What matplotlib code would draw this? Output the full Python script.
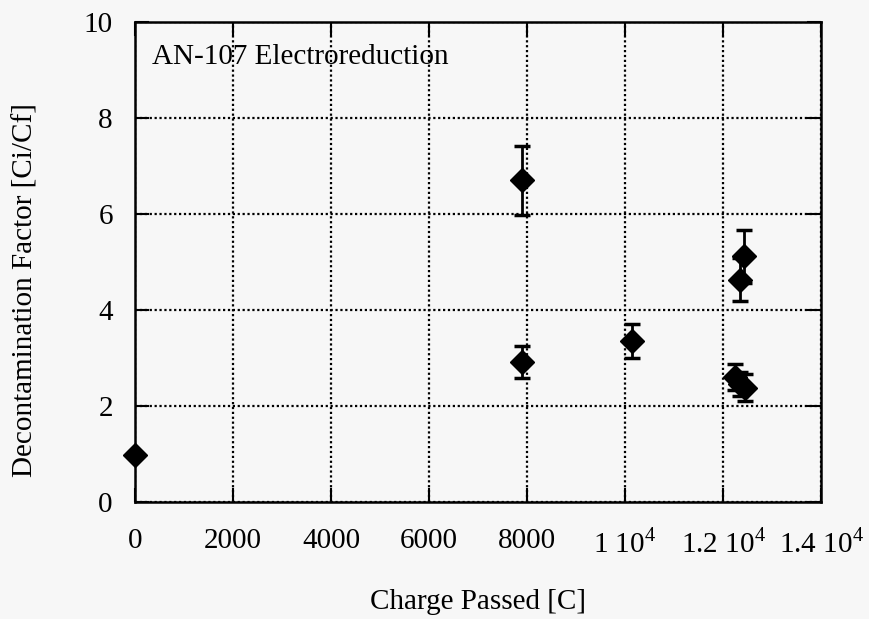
import matplotlib
matplotlib.use("Agg")
import matplotlib.pyplot as plt
from matplotlib.ticker import FixedLocator

charge = [0, 7900, 7900, 10150, 12350, 12430, 12250, 12350, 12450]
df = [0.98, 6.7, 2.92, 3.35, 4.63, 5.12, 2.6, 2.45, 2.38]
err = [0.05, 0.72, 0.33, 0.35, 0.45, 0.55, 0.27, 0.25, 0.28]

xticks = [0, 2000, 4000, 6000, 8000, 10000, 12000, 14000]
xticklabels = ["0", "2000", "4000", "6000", "8000",
               r"1 10$^{4}$", r"1.2 10$^{4}$", r"1.4 10$^{4}$"]
yticks = [0, 2, 4, 6, 8, 10]

plt.rcParams['font.family'] = ['Liberation Serif', 'DejaVu Serif']
plt.rcParams['mathtext.fontset'] = 'custom'
plt.rcParams['mathtext.rm'] = 'Liberation Serif'

fig = plt.figure(figsize=(8.69, 6.19), dpi=100)
fig.patch.set_facecolor('#f7f7f7')
ax = fig.add_axes([135/869, 1-502/619, (821-135)/869, (502-22)/619])
ax.set_facecolor('#f7f7f7')

ax.errorbar(charge, df, yerr=err, fmt='D', color='black', markersize=12,
            ecolor='black', elinewidth=2, capsize=6, capthick=2.5, zorder=3,
            clip_on=False)

ax.set_xlim(0, 14000)
ax.set_ylim(0, 10)
ax.xaxis.set_major_locator(FixedLocator(xticks))
ax.set_xticklabels(xticklabels)
ax.set_yticks(yticks)
ax.grid(True, color='black', linestyle=(0, (1, 1.2)), linewidth=1.6)
for s in ax.spines.values():
    s.set_linewidth(1.8)
ax.tick_params(direction='in', length=10, width=1.5, top=True, right=True,
               labelsize=21)
ax.tick_params(axis='x', pad=19)
ax.tick_params(axis='y', pad=16)

ax.set_xlabel("Charge Passed [C]", fontsize=21, labelpad=22)
ax.set_ylabel("Decontamination Factor [Ci/Cf]", fontsize=21)
ax.yaxis.set_label_coords(-0.14, 0.442)
ax.text(0.025, 0.955, "AN-107 Electroreduction", transform=ax.transAxes,
        fontsize=21, va='top', ha='left')

fig.savefig("out.png", dpi=100, facecolor=fig.get_facecolor())
